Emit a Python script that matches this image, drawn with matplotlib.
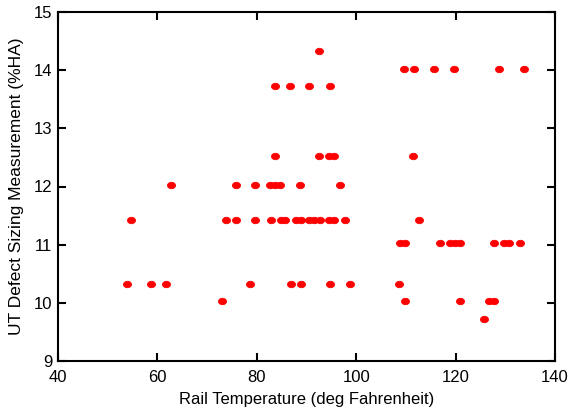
import matplotlib
matplotlib.use("Agg")
import matplotlib.pyplot as plt
from matplotlib.path import Path
from matplotlib.transforms import Affine2D

plt.rcParams['font.family'] = ['Liberation Sans', 'DejaVu Sans']

# Rail temperature (deg F) and UT defect sizing (%HA), read per row
temp_1433 = [92.6]
temp_1402 = [109.6, 111.6, 115.6, 119.7, 128.8, 133.8]
temp_1373 = [83.7, 86.7, 90.6, 94.7]
temp_1252 = [83.7, 92.6, 94.6, 95.6, 111.5]
temp_1203 = [62.8, 75.9, 79.7, 82.6, 83.6, 84.7, 88.7, 96.8]
temp_1142 = [54.7, 73.9, 75.9, 79.7, 82.8, 84.8, 85.6, 87.8, 88.8, 90.6,
             91.6, 92.8, 94.6, 95.6, 97.8, 112.7]
temp_1103 = [108.8, 109.8, 116.8, 118.8, 119.8, 120.8, 127.8, 129.8, 130.8, 132.9]
temp_1032 = [53.8, 58.8, 61.8, 78.7, 86.8, 88.8, 94.8, 98.8, 108.6]
temp_1003 = [72.9, 109.8, 120.8, 126.8, 127.8]
temp_972 = [125.8]

rows = [
    (temp_1433, 14.33), (temp_1402, 14.02), (temp_1373, 13.73),
    (temp_1252, 12.52), (temp_1203, 12.03), (temp_1142, 11.43),
    (temp_1103, 11.03), (temp_1032, 10.32), (temp_1003, 10.03),
    (temp_972, 9.72),
]
xs, ys = [], []
for t, v in rows:
    xs.extend(t)
    ys.extend([v] * len(t))

ellipse = Path.unit_circle().transformed(Affine2D().scale(1.0, 0.8))

fig = plt.figure(figsize=(5.72, 4.17), dpi=100)
ax = fig.add_axes([58/572, 1 - 361/417, (555 - 58)/572, (361 - 12)/417])
ax.plot(xs, ys, linestyle='none', marker=ellipse, markersize=5.8,
        markerfacecolor='#ff0000', markeredgecolor='#ff0000', markeredgewidth=0.6)

ax.set_xlim(40, 140)
ax.set_ylim(9, 15)
ax.set_xticks([40, 60, 80, 100, 120, 140])
ax.set_yticks([9, 10, 11, 12, 13, 14, 15])
for s in ax.spines.values():
    s.set_linewidth(1.5)
ax.tick_params(direction='in', length=5.5, width=1.5, top=True, right=True,
               labelsize=12)
ax.tick_params(axis='x', pad=6.5)
ax.tick_params(axis='y', pad=4)
ax.set_xlabel('Rail Temperature (deg Fahrenheit)', fontsize=12, labelpad=5)
ax.set_ylabel('UT Defect Sizing Measurement (%HA)', fontsize=12.5, labelpad=7)

fig.savefig('out.png', dpi=100)
